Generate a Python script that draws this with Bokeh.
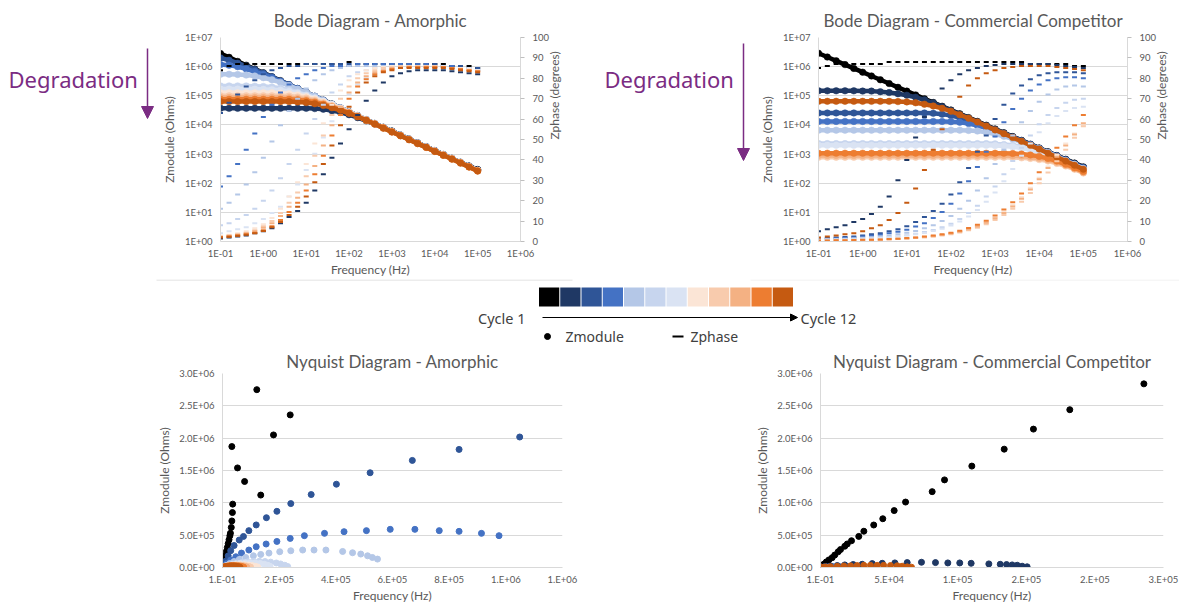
import math
from bokeh.plotting import figure
from bokeh.models import (Range1d, LinearAxis, LinearScale, FixedTicker, CustomJSTickFormatter,
                          Arrow, NormalHead)
from bokeh.layouts import row, column
from bokeh.embed import file_html
from bokeh.resources import INLINE
from bokeh.core.properties import value

# ---------------------------------------------------------------- data
cycle_names = ["Cycle 1", "Cycle 2", "Cycle 3", "Cycle 4", "Cycle 5", "Cycle 6",
               "Cycle 7", "Cycle 8", "Cycle 9", "Cycle 10", "Cycle 11", "Cycle 12"]
cycle_colors = ["#000000", "#1F3864", "#2F5597", "#4472C4", "#B4C7E7", "#C7D5EE",
                "#DAE3F3", "#FBE5D6", "#F8CBAD", "#F4B183", "#ED7D31", "#C55A11"]

# measurement frequencies, log10(Hz)
freq_exponents = [-1.0, -0.8, -0.6, -0.4, -0.2, 0.0, 0.2, 0.4, 0.6, 0.8, 1.0, 1.2, 1.4, 1.6, 1.8,
                  2.0, 2.2, 2.4, 2.6, 2.8, 3.0, 3.2, 3.4, 3.6, 3.8, 4.0, 4.2, 4.4, 4.6, 4.8, 5.0]

# Bode - Amorphic : log10 |Z| (Ohms), one row per cycle
amorphic_zmod_log = [
    [6.45, 6.32, 6.18, 6.05, 5.92, 5.79, 5.65, 5.52, 5.38, 5.25, 5.12, 4.98, 4.85, 4.72, 4.58, 4.45, 4.32, 4.18, 4.05, 3.92, 3.79, 3.65, 3.52, 3.38, 3.25, 3.12, 2.98, 2.85, 2.72, 2.59, 2.47],
    [4.57, 4.57, 4.57, 4.57, 4.57, 4.57, 4.57, 4.57, 4.57, 4.57, 4.57, 4.56, 4.54, 4.49, 4.43, 4.35, 4.25, 4.14, 4.03, 3.91, 3.78, 3.65, 3.51, 3.38, 3.25, 3.11, 2.98, 2.85, 2.71, 2.58, 2.45],
    [6.30, 6.22, 6.12, 6.02, 5.90, 5.78, 5.65, 5.51, 5.38, 5.25, 5.11, 4.98, 4.85, 4.71, 4.58, 4.45, 4.31, 4.18, 4.05, 3.91, 3.78, 3.65, 3.51, 3.38, 3.25, 3.11, 2.98, 2.85, 2.71, 2.58, 2.45],
    [6.07, 6.05, 6.00, 5.92, 5.83, 5.73, 5.62, 5.50, 5.37, 5.24, 5.11, 4.98, 4.84, 4.71, 4.58, 4.44, 4.31, 4.18, 4.04, 3.91, 3.78, 3.64, 3.51, 3.38, 3.24, 3.11, 2.98, 2.84, 2.71, 2.58, 2.44],
    [5.74, 5.74, 5.73, 5.71, 5.68, 5.62, 5.55, 5.46, 5.35, 5.23, 5.11, 4.98, 4.84, 4.71, 4.58, 4.44, 4.31, 4.17, 4.04, 3.91, 3.77, 3.64, 3.51, 3.37, 3.24, 3.11, 2.97, 2.84, 2.71, 2.57, 2.44],
    [5.34, 5.34, 5.34, 5.34, 5.33, 5.32, 5.30, 5.26, 5.20, 5.12, 5.03, 4.93, 4.82, 4.70, 4.57, 4.44, 4.31, 4.17, 4.04, 3.91, 3.77, 3.64, 3.51, 3.37, 3.24, 3.11, 2.97, 2.84, 2.71, 2.57, 2.44],
    [5.23, 5.23, 5.23, 5.23, 5.23, 5.22, 5.21, 5.19, 5.15, 5.09, 5.01, 4.92, 4.81, 4.70, 4.57, 4.44, 4.31, 4.17, 4.04, 3.91, 3.77, 3.64, 3.51, 3.37, 3.24, 3.10, 2.97, 2.84, 2.70, 2.57, 2.44],
    [5.10, 5.10, 5.10, 5.10, 5.10, 5.10, 5.10, 5.09, 5.07, 5.03, 4.97, 4.89, 4.79, 4.68, 4.56, 4.44, 4.31, 4.17, 4.04, 3.90, 3.77, 3.64, 3.50, 3.37, 3.24, 3.10, 2.97, 2.84, 2.70, 2.57, 2.43],
    [5.00, 5.00, 5.00, 5.00, 5.00, 5.00, 5.00, 5.00, 4.99, 4.96, 4.92, 4.85, 4.76, 4.66, 4.55, 4.43, 4.30, 4.17, 4.04, 3.90, 3.77, 3.64, 3.50, 3.37, 3.23, 3.10, 2.97, 2.83, 2.70, 2.57, 2.43],
    [4.94, 4.94, 4.94, 4.94, 4.94, 4.94, 4.94, 4.94, 4.93, 4.91, 4.87, 4.81, 4.73, 4.64, 4.54, 4.42, 4.30, 4.17, 4.03, 3.90, 3.77, 3.63, 3.50, 3.37, 3.23, 3.10, 2.97, 2.83, 2.70, 2.56, 2.43],
    [4.88, 4.88, 4.88, 4.88, 4.88, 4.88, 4.88, 4.88, 4.88, 4.86, 4.83, 4.78, 4.71, 4.62, 4.52, 4.41, 4.29, 4.16, 4.03, 3.90, 3.76, 3.63, 3.50, 3.36, 3.23, 3.10, 2.96, 2.83, 2.70, 2.56, 2.42],
    [4.80, 4.80, 4.80, 4.80, 4.80, 4.80, 4.80, 4.80, 4.80, 4.79, 4.77, 4.73, 4.67, 4.59, 4.50, 4.40, 4.28, 4.16, 4.03, 3.89, 3.76, 3.63, 3.49, 3.36, 3.23, 3.09, 2.96, 2.83, 2.69, 2.56, 2.42],
]
# Bode - Amorphic : phase (degrees)
amorphic_phase = [
    [84, 86, 87, 87, 87, 87, 87, 87, 87, 87, 87, 87, 87, 87, 87, 88, 87, 87, 87, 87, 87, 87, 87, 87, 87, 87, 87, 86, 86, 86, 85],
    [1.5, 2, 2.5, 3, 4, 5, 6.5, 9, 12, 15, 19, 25, 33, 41, 48, 55, 62, 69, 74, 78, 81, 82.5, 83.5, 84, 84, 84, 84, 83.5, 83, 82.5, 82],
    [63, 68, 72, 76, 79, 82, 84, 85, 86, 86, 87, 87, 87, 87, 87, 87, 87, 87, 87, 87, 87, 87, 87, 87, 87, 87, 86, 86, 86, 85, 85],
    [27, 32, 38, 45, 53, 61, 67, 73, 77, 80, 82, 84, 85, 86, 86, 86, 87, 87, 87, 87, 87, 87, 87, 87, 87, 86, 86, 86, 85, 85, 84],
    [16, 19, 23, 28, 34, 41, 49, 57, 64, 70, 75, 79, 82, 84, 85, 86, 86, 86, 86, 86, 86, 86, 86, 86, 86, 86, 86, 85, 85, 85, 84],
    [8, 9, 11, 13, 16, 20, 25, 31, 38, 45, 53, 60, 67, 73, 77, 81, 83, 84, 85, 85, 86, 86, 86, 86, 86, 86, 86, 85, 85, 85, 84],
    [4, 5, 6, 7, 9, 11, 14, 17, 22, 28, 35, 43, 51, 59, 66, 72, 77, 80, 82, 84, 85, 85, 86, 86, 86, 86, 86, 85, 85, 85, 84],
    [2.8, 3.3, 4, 5, 6.5, 8.5, 11.5, 16, 22, 29, 38, 48, 58, 67, 74, 79, 82, 84, 85, 85.5, 86, 86, 86, 86, 86, 86, 85.5, 85, 85, 84.5, 84],
    [2.5, 3, 3.6, 4.3, 5.5, 7.5, 10, 14, 19, 24, 32, 42, 52, 62, 70, 76, 80, 82.5, 84, 85, 85.5, 86, 86, 86, 86, 86, 85.5, 85, 84.5, 84, 83.5],
    [2.3, 2.8, 3.3, 4, 5, 6.8, 9, 12.5, 17, 21.5, 28, 37, 47, 57, 66, 73, 78, 81, 83, 84, 85, 85.5, 85.5, 85.5, 85.5, 85.5, 85.5, 85, 84.5, 84, 83.5],
    [2.2, 2.5, 3, 3.5, 4.3, 5.5, 7.5, 10.5, 14.5, 19, 25, 33, 42, 52, 62, 70, 76, 79.5, 82, 83.5, 84.5, 85, 85.5, 85.5, 85.5, 85.5, 85.5, 85, 84.5, 84, 83.5],
    [2, 2.3, 2.8, 3.3, 4, 5.2, 7, 9.5, 13, 17, 22, 29, 38, 47, 57, 66, 73, 78, 81, 83, 84, 85, 85, 85, 85, 85, 85, 84.5, 84, 83.5, 83],
]

# Bode - Commercial Competitor : log10 |Z| (Ohms)
competitor_zmod_log = [
    [6.46, 6.33, 6.20, 6.07, 5.94, 5.81, 5.68, 5.55, 5.42, 5.29, 5.16, 5.03, 4.90, 4.77, 4.64, 4.51, 4.38, 4.25, 4.12, 3.99, 3.86, 3.73, 3.60, 3.47, 3.34, 3.21, 3.08, 2.95, 2.82, 2.69, 2.56],
    [5.17, 5.17, 5.17, 5.17, 5.17, 5.16, 5.16, 5.14, 5.11, 5.07, 5.02, 4.95, 4.86, 4.75, 4.63, 4.50, 4.37, 4.24, 4.11, 3.98, 3.85, 3.72, 3.59, 3.46, 3.33, 3.20, 3.07, 2.94, 2.81, 2.68, 2.55],
    [4.41, 4.41, 4.41, 4.41, 4.41, 4.41, 4.41, 4.41, 4.41, 4.41, 4.41, 4.41, 4.41, 4.40, 4.37, 4.32, 4.25, 4.16, 4.05, 3.94, 3.82, 3.70, 3.58, 3.45, 3.32, 3.19, 3.06, 2.93, 2.80, 2.66, 2.53],
    [4.12, 4.12, 4.12, 4.12, 4.12, 4.12, 4.12, 4.12, 4.12, 4.12, 4.12, 4.12, 4.12, 4.12, 4.12, 4.11, 4.09, 4.05, 3.98, 3.90, 3.80, 3.69, 3.57, 3.45, 3.32, 3.19, 3.06, 2.93, 2.79, 2.65, 2.52],
    [3.82, 3.82, 3.82, 3.82, 3.82, 3.82, 3.82, 3.82, 3.82, 3.82, 3.82, 3.82, 3.82, 3.82, 3.82, 3.82, 3.82, 3.81, 3.79, 3.75, 3.69, 3.61, 3.52, 3.41, 3.30, 3.18, 3.05, 2.92, 2.78, 2.64, 2.50],
    [3.36, 3.36, 3.36, 3.36, 3.36, 3.36, 3.36, 3.36, 3.36, 3.36, 3.36, 3.36, 3.36, 3.36, 3.36, 3.36, 3.36, 3.36, 3.36, 3.36, 3.35, 3.33, 3.30, 3.25, 3.18, 3.09, 2.99, 2.88, 2.76, 2.63, 2.49],
    [3.30, 3.30, 3.30, 3.30, 3.30, 3.30, 3.30, 3.30, 3.30, 3.30, 3.30, 3.30, 3.30, 3.30, 3.30, 3.30, 3.30, 3.30, 3.30, 3.30, 3.29, 3.28, 3.25, 3.21, 3.15, 3.07, 2.98, 2.87, 2.75, 2.62, 2.48],
    [2.98, 2.98, 2.98, 2.98, 2.98, 2.98, 2.98, 2.98, 2.98, 2.98, 2.98, 2.98, 2.98, 2.98, 2.98, 2.98, 2.98, 2.98, 2.98, 2.98, 2.98, 2.98, 2.97, 2.96, 2.93, 2.89, 2.83, 2.74, 2.64, 2.52, 2.39],
    [2.89, 2.89, 2.89, 2.89, 2.89, 2.89, 2.89, 2.89, 2.89, 2.89, 2.89, 2.89, 2.89, 2.89, 2.89, 2.89, 2.89, 2.89, 2.89, 2.89, 2.89, 2.89, 2.88, 2.87, 2.85, 2.81, 2.76, 2.68, 2.59, 2.48, 2.35],
    [2.95, 2.95, 2.95, 2.95, 2.95, 2.95, 2.95, 2.95, 2.95, 2.95, 2.95, 2.95, 2.95, 2.95, 2.95, 2.95, 2.95, 2.95, 2.95, 2.95, 2.95, 2.95, 2.94, 2.93, 2.90, 2.86, 2.80, 2.72, 2.62, 2.50, 2.37],
    [3.03, 3.03, 3.03, 3.03, 3.03, 3.03, 3.03, 3.03, 3.03, 3.03, 3.03, 3.03, 3.03, 3.03, 3.03, 3.03, 3.03, 3.03, 3.03, 3.03, 3.03, 3.03, 3.02, 3.00, 2.97, 2.92, 2.85, 2.76, 2.65, 2.53, 2.40],
    [4.81, 4.81, 4.81, 4.81, 4.81, 4.81, 4.81, 4.81, 4.81, 4.80, 4.79, 4.76, 4.71, 4.65, 4.57, 4.47, 4.35, 4.23, 4.10, 3.96, 3.83, 3.70, 3.57, 3.44, 3.30, 3.17, 3.03, 2.90, 2.76, 2.62, 2.48],
]
# Bode - Commercial Competitor : phase (degrees)
competitor_phase = [
    [85, 86, 87, 87, 87, 87, 87, 87, 88, 88, 88, 88, 88, 88, 88, 88, 88, 88, 88, 88, 88, 88, 88, 88, 87, 87, 87, 87, 87, 86, 86],
    [5, 6, 7, 8, 9.5, 11, 13.5, 17, 22, 30, 40, 51, 61, 69, 75, 79, 82, 84, 85, 86, 86.5, 87, 87, 87, 87, 87, 87, 86.5, 86, 85.5, 85],
    [1.5, 1.7, 2, 2.2, 2.5, 3, 3.5, 4, 5, 6, 7.5, 9.5, 12, 15, 18.5, 23, 29, 36, 44, 52, 60, 67, 72.5, 76.5, 79.5, 81.5, 82.5, 83, 83, 83, 82.5],
    [1.2, 1.4, 1.6, 1.8, 2, 2.4, 2.8, 3.3, 4, 4.8, 5.8, 7.3, 9, 11.5, 14.5, 18.5, 23.5, 29.5, 36.5, 44, 51.5, 58.5, 65, 70, 74, 77, 79, 80, 80.5, 80.5, 80],
    [1, 1.1, 1.2, 1.4, 1.6, 1.8, 2.1, 2.5, 3, 3.6, 4.3, 5.2, 6.5, 8, 10, 12.5, 16, 20, 25, 31, 38, 45, 52, 58.5, 64, 68.5, 72, 74.5, 76, 76.5, 76],
    [0.8, 0.9, 1, 1.1, 1.2, 1.4, 1.6, 1.9, 2.2, 2.6, 3.1, 3.8, 4.6, 5.6, 7, 8.7, 11, 14, 17.5, 22, 27, 33, 39.5, 46, 52, 57.5, 62, 65.5, 68, 69.5, 70],
    [0.7, 0.8, 0.9, 1, 1.1, 1.3, 1.5, 1.7, 2, 2.4, 2.9, 3.5, 4.2, 5.1, 6.3, 7.8, 9.8, 12.3, 15.5, 19.5, 24, 29.5, 35.5, 42, 48, 53.5, 58, 61.5, 64, 65.5, 66],
    [0.4, 0.4, 0.5, 0.5, 0.6, 0.7, 0.8, 1, 1.2, 1.4, 1.6, 1.9, 2.3, 2.8, 3.4, 4.1, 5, 6.2, 7.7, 9.6, 11.9, 14.6, 17.9, 21.8, 26.3, 31.3, 36.8, 42.4, 48, 53, 57],
    [0.3, 0.3, 0.4, 0.4, 0.5, 0.6, 0.7, 0.8, 1, 1.2, 1.4, 1.7, 2, 2.4, 2.9, 3.6, 4.4, 5.5, 6.8, 8.5, 10.5, 13, 16, 19.5, 23.8, 28.5, 33.8, 39.3, 45, 50.8, 56.5],
    [0.4, 0.4, 0.5, 0.5, 0.6, 0.7, 0.8, 0.9, 1.1, 1.3, 1.5, 1.8, 2.2, 2.6, 3.2, 3.9, 4.8, 6, 7.4, 9.2, 11.4, 14, 17.2, 21, 25.5, 30.5, 36, 41.5, 47, 52.5, 58],
    [0.5, 0.5, 0.6, 0.6, 0.7, 0.8, 0.9, 1, 1.2, 1.4, 1.7, 2, 2.4, 2.9, 3.5, 4.3, 5.3, 6.6, 8.2, 10.2, 12.7, 15.7, 19.3, 23.5, 28.5, 34, 40, 46, 51.5, 57, 62],
    [2, 2.5, 3, 3.5, 4, 5, 6.5, 8, 10.5, 14, 19, 26, 35, 45, 55, 64, 71, 76.5, 80, 82.5, 84, 85, 85.5, 86, 86, 86, 86, 85.5, 85, 84.5, 84],
]

# Nyquist - Amorphic : x and y values of the points, one list per cycle
amorphic_nyq_x = [
    [2e3, 5e3, 8e3, 1.1e4, 1.4e4, 1.7e4, 2.0e4, 2.3e4, 2.6e4, 2.8e4, 3.1e4, 3.3e4, 3.5e4, 3.6e4, 1.35e5, 7.8e4, 5.3e4, 3.3e4, 1.8e5, 2.39e5, 1.21e5],
    [3e3, 8e3, 1.4e4, 2e4, 2.6e4, 3.1e4, 3.5e4, 3.7e4, 4.1e4],
    [5e3, 1.2e4, 2e4, 2.9e4, 4.1e4, 5.9e4, 7.4e4, 9.3e4, 1.19e5, 1.55e5, 1.92e5, 2.41e5, 3.13e5, 4.02e5, 5.21e5, 6.7e5, 8.35e5, 1.049e6],
    [6e3, 1.5e4, 2.9e4, 4.7e4, 6.7e4, 9.3e4, 1.19e5, 1.54e5, 1.92e5, 2.39e5, 2.89e5, 3.6e5, 4.29e5, 5.08e5, 5.92e5, 6.79e5, 7.65e5, 8.35e5, 9.14e5, 9.76e5],
    [1.3e4, 2.6e4, 4.1e4, 5.9e4, 8.2e4, 1.09e5, 1.35e5, 1.64e5, 2.02e5, 2.41e5, 2.83e5, 3.23e5, 3.65e5, 4.24e5, 4.59e5, 4.88e5, 5.12e5, 5.29e5, 5.47e5],
    [4e3, 1.2e4, 2.3e4, 3.6e4, 5.2e4, 7e4, 9e4, 1.1e5, 1.3e5, 1.5e5, 1.7e5, 1.9e5, 2.05e5, 2.2e5, 2.3e5],
    [4e3, 1e4, 2e4, 3.2e4, 4.6e4, 6.2e4, 8e4, 9.8e4, 1.16e5, 1.33e5, 1.48e5, 1.6e5, 1.68e5],
    [4e3, 1.2e4, 2.2e4, 3.4e4, 4.8e4, 6.3e4, 7.8e4, 9.2e4, 1.05e5, 1.16e5, 1.24e5],
    [4e3, 1e4, 1.8e4, 2.8e4, 3.9e4, 5.1e4, 6.3e4, 7.4e4, 8.4e4, 9.3e4, 9.9e4],
    [3e3, 9e3, 1.6e4, 2.5e4, 3.4e4, 4.4e4, 5.4e4, 6.4e4, 7.3e4, 8.1e4, 8.6e4],
    [3e3, 8e3, 1.4e4, 2.2e4, 3e4, 3.9e4, 4.8e4, 5.7e4, 6.5e4, 7.1e4, 7.5e4],
    [3e3, 7e3, 1.2e4, 1.8e4, 2.5e4, 3.2e4, 4e4, 4.7e4, 5.4e4, 5.9e4, 6.2e4],
]
amorphic_nyq_y = [
    [3e4, 8e4, 1.3e5, 1.9e5, 2.5e5, 3.1e5, 3.7e5, 4.3e5, 4.9e5, 5.3e5, 6.2e5, 7.2e5, 8.5e5, 9.8e5, 1.12e6, 1.33e6, 1.54e6, 1.87e6, 2.05e6, 2.36e6, 2.75e6],
    [5e3, 1.1e4, 1.5e4, 1.6e4, 1.4e4, 1e4, 6e3, 3e3, 1e3],
    [4e4, 1.0e5, 1.8e5, 2.6e5, 3.4e5, 4.25e5, 4.8e5, 5.7e5, 6.58e5, 7.7e5, 8.69e5, 9.88e5, 1.128e6, 1.288e6, 1.465e6, 1.656e6, 1.826e6, 2.018e6],
    [2.6e4, 6.2e4, 1.15e5, 1.66e5, 2.23e5, 2.7e5, 3.21e5, 3.63e5, 4.03e5, 4.5e5, 4.92e5, 5.28e5, 5.54e5, 5.7e5, 5.9e5, 5.9e5, 5.7e5, 5.59e5, 5.28e5, 4.92e5],
    [3.1e4, 6.2e4, 9.3e4, 1.24e5, 1.55e5, 1.81e5, 2.02e5, 2.23e5, 2.44e5, 2.59e5, 2.7e5, 2.7e5, 2.7e5, 2.48e5, 2.28e5, 2.08e5, 1.81e5, 1.55e5, 1.3e5],
    [8e3, 2.1e4, 3.6e4, 5.1e4, 6.6e4, 7.9e4, 8.9e4, 9.5e4, 9.6e4, 9.2e4, 8.3e4, 7e4, 5.5e4, 3.5e4, 1.5e4],
    [7e3, 1.8e4, 3e4, 4.2e4, 5.5e4, 6.5e4, 7.2e4, 7.4e4, 7.1e4, 6.3e4, 5e4, 3.4e4, 1.8e4],
    [6e3, 1.6e4, 2.6e4, 3.6e4, 4.3e4, 4.6e4, 4.4e4, 3.8e4, 2.9e4, 1.8e4, 8e3],
    [5e3, 1.3e4, 2.2e4, 3e4, 3.6e4, 3.8e4, 3.6e4, 3.1e4, 2.4e4, 1.5e4, 6e3],
    [5e3, 1.2e4, 2e4, 2.7e4, 3.2e4, 3.4e4, 3.2e4, 2.7e4, 2.1e4, 1.3e4, 5e3],
    [4e3, 1.1e4, 1.8e4, 2.4e4, 2.8e4, 3e4, 2.8e4, 2.4e4, 1.8e4, 1.1e4, 4e3],
    [4e3, 9e3, 1.5e4, 2e4, 2.4e4, 2.5e4, 2.4e4, 2e4, 1.5e4, 9e3, 3e3],
]

# Nyquist - Commercial Competitor
competitor_nyq_x = [
    [7e2, 2.4e3, 4.2e3, 6.1e3, 8.5e3, 1.04e4, 1.29e4, 1.46e4, 1.77e4, 1.95e4, 2.26e4, 2.79e4, 3.16e4, 3.88e4, 4.54e4, 5.37e4, 6.2e4, 8.14e4, 9.04e4, 1.103e5, 1.339e5, 1.552e5, 1.817e5, 2.357e5],
    [3.6e3, 7.3e3, 1.22e4, 1.77e4, 2.38e4, 3.04e4, 3.77e4, 4.5e4, 5.42e4, 6.32e4, 7.36e4, 8.38e4, 9.28e4, 1.015e5, 1.098e5, 1.227e5, 1.31e5, 1.356e5, 1.397e5, 1.434e5, 1.47e5, 1.506e5],
    [2e3, 5e3, 9e3, 1.4e4, 1.9e4, 2.3e4, 2.6e4],
    [1e3, 3e3, 6e3, 9e3, 1.2e4, 1.3e4],
    [1e3, 2.5e3, 4.5e3, 6e3, 6.6e3],
    [5e2, 1.2e3, 2e3, 2.3e3],
    [5e2, 1.1e3, 1.8e3, 2e3],
    [3e2, 6e2, 9e2, 9.5e2],
    [2e2, 5e2, 7e2, 7.8e2],
    [3e2, 5e2, 8e2, 9e2],
    [3e2, 7e2, 1e3, 1.07e3],
    [7e2, 3.6e3, 7.3e3, 1.22e4, 1.7e4, 2.19e4, 2.67e4, 3.16e4, 3.64e4, 4.13e4, 4.6e4, 5.1e4, 5.59e4, 5.95e4, 6.32e4, 6.63e4],
]
competitor_nyq_y = [
    [2.6e4, 5.1e4, 8.6e4, 1.17e5, 1.52e5, 1.93e5, 2.43e5, 2.78e5, 3.29e5, 3.64e5, 4.14e5, 4.81e5, 5.61e5, 6.57e5, 7.54e5, 8.8e5, 1.012e6, 1.173e6, 1.355e6, 1.568e6, 1.83e6, 2.14e6, 2.44e6, 2.84e6],
    [1.5e4, 2.3e4, 3e4, 4e4, 4.6e4, 5e4, 6e4, 6.5e4, 7.1e4, 7.6e4, 8.1e4, 7.6e4, 7.1e4, 7.1e4, 6.5e4, 5.6e4, 5e4, 4.6e4, 4e4, 3.5e4, 2e4, 1.1e4],
    [4e3, 8e3, 1.1e4, 1.2e4, 1e4, 6e3, 2e3],
    [2e3, 4.5e3, 6e3, 5.5e3, 3e3, 1e3],
    [1.5e3, 3e3, 3e3, 1.5e3, 5e2],
    [6e2, 1e3, 7e2, 2e2],
    [5e2, 9e2, 6e2, 2e2],
    [3e2, 4e2, 3e2, 1e2],
    [2e2, 3e2, 2e2, 1e2],
    [3e2, 4e2, 3e2, 1e2],
    [3e2, 4e2, 3e2, 1e2],
    [3e3, 8e3, 1.3e4, 1.8e4, 2.3e4, 2.6e4, 3e4, 3.3e4, 3.3e4, 3.3e4, 3.3e4, 3e4, 2.6e4, 2e4, 1e4, 5e3],
]

# axis ticks
bode_freq_ticks = [0.1, 1, 10, 100, 1e3, 1e4, 1e5, 1e6]
bode_zmod_ticks = [1, 10, 100, 1e3, 1e4, 1e5, 1e6, 1e7]
bode_phase_ticks = [0, 10, 20, 30, 40, 50, 60, 70, 80, 90, 100]
nyq_amorphic_xticks = [0, 2e5, 4e5, 6e5, 8e5, 1e6, 1.2e6]
nyq_competitor_xticks = [0, 5e4, 1e5, 1.5e5, 2e5, 2.5e5]
nyq_yticks = [0, 5e5, 1e6, 1.5e6, 2e6, 2.5e6, 3e6]

# ---------------------------------------------------------------- style
GRAY = "#595959"
GRID = "#D9D9D9"
PURPLE = "#7B2C83"
FONT = "Lato"
LFONT = "Noto Sans"

LOG_CODE = """
const e = Math.round(Math.log10(tick));
return "1E" + (e < 0 ? "-" : "+") + String(Math.abs(e)).padStart(2, "0");
"""
NYQ_X_CODE = """
if (tick < 1) return "1.E-01";
let e = Math.floor(Math.log10(tick) + 1e-9);
let m = Math.round(tick / Math.pow(10, e));
if (m >= 10) { m = 1; e = e + 1; }
return m + ".E+" + String(e).padStart(2, "0");
"""
NYQ_Y_CODE = """
if (tick == 0) return "0.0E+00";
const e = Math.floor(Math.log10(tick) + 1e-9);
const m = tick / Math.pow(10, e);
return m.toFixed(1) + "E+" + String(e).padStart(2, "0");
"""


def style_axis(ax, standoff=8, label_standoff=3, tick_out=0):
    ax.axis_line_color = GRID
    ax.major_tick_line_color = None
    ax.minor_tick_line_color = None
    ax.major_tick_out = tick_out
    ax.major_tick_in = 0
    ax.minor_tick_out = 0
    ax.minor_tick_in = 0
    ax.major_label_text_font = FONT
    ax.major_label_text_font_size = "9.5px"
    ax.major_label_text_color = GRAY
    ax.major_label_standoff = standoff
    ax.axis_label_text_font = FONT
    ax.axis_label_text_font_size = "12px"
    ax.axis_label_text_font_style = "normal"
    ax.axis_label_text_color = GRAY
    ax.axis_label_standoff = label_standoff


def style_title(p, offset, standoff):
    p.title.align = "center"
    p.title.offset = offset
    p.title.text_font = FONT
    p.title.text_font_size = "17px"
    p.title.text_font_style = "normal"
    p.title.text_color = GRAY
    p.title.standoff = standoff


def blank(w, h, y_top, y_bottom, mb_top=0, mb_bottom=0):
    # a plain drawing area whose data units are page pixels
    f = figure(width=w, height=h, x_range=Range1d(0, w), y_range=Range1d(y_bottom, y_top),
               x_axis_location=None, y_axis_location=None, title=None,
               min_border_left=0, min_border_right=0,
               min_border_top=mb_top, min_border_bottom=mb_bottom,
               output_backend="svg", toolbar_location=None)
    f.grid.visible = False
    f.outline_line_color = None
    return f


freq = [10 ** e for e in freq_exponents]


def make_bode(width, title, toff, zlog, phase, mb_left, mb_right):
    p = figure(width=width, height=279, x_axis_type="log", y_axis_type="log",
               x_range=Range1d(0.1, 1e6), y_range=Range1d(1, 1e7), title=title,
               output_backend="svg", toolbar_location=None,
               min_border_left=mb_left, min_border_right=mb_right,
               min_border_top=37, min_border_bottom=38)
    p.outline_line_color = None
    style_title(p, toff, 13)
    p.xaxis[0].ticker = FixedTicker(ticks=bode_freq_ticks)
    p.xaxis[0].formatter = CustomJSTickFormatter(code=LOG_CODE)
    p.xaxis[0].axis_label = "Frequency (Hz)"
    p.yaxis[0].ticker = FixedTicker(ticks=bode_zmod_ticks)
    p.yaxis[0].formatter = CustomJSTickFormatter(code=LOG_CODE)
    p.yaxis[0].axis_label = "Zmodule (Ohms)"
    style_axis(p.xaxis[0], 6, 0)
    style_axis(p.yaxis[0], 8, 5)
    p.extra_y_ranges = {"phase": Range1d(0, 100)}
    p.extra_y_scales = {"phase": LinearScale()}
    rax = LinearAxis(y_range_name="phase", axis_label="Zphase (degrees)",
                     ticker=FixedTicker(ticks=bode_phase_ticks))
    style_axis(rax, 8, 2, tick_out=4)
    rax.major_tick_line_color = "#BFBFBF"
    try:
        rax.axis_label_orientation = math.pi / 2
    except Exception:
        pass
    p.add_layout(rax, "right")
    p.xgrid.visible = False
    p.ygrid.grid_line_color = GRID
    for i in range(12):
        zs = [10 ** v for v in zlog[i]]
        p.line(freq, zs, line_width=4.5, line_color=cycle_colors[i], line_cap="round")
        p.scatter(freq, zs, marker="circle", size=6.5,
                  fill_color=cycle_colors[i], line_color=cycle_colors[i], line_width=0.5)
    for i in range(12):
        p.scatter(freq, phase[i], marker="dash", size=5, line_width=2,
                  line_color=cycle_colors[i], y_range_name="phase")
    return p


def make_nyq(width, title, toff, xmax, xticks, xs, ys, mb_left, mb_right):
    p = figure(width=width, height=261, x_range=Range1d(0, xmax), y_range=Range1d(0, 3e6),
               title=title, output_backend="svg", toolbar_location=None,
               min_border_left=mb_left, min_border_right=mb_right,
               min_border_top=28, min_border_bottom=39)
    p.outline_line_color = None
    style_title(p, toff, 4)
    p.xaxis[0].ticker = FixedTicker(ticks=xticks)
    p.xaxis[0].formatter = CustomJSTickFormatter(code=NYQ_X_CODE)
    p.xaxis[0].axis_label = "Frequency (Hz)"
    p.yaxis[0].ticker = FixedTicker(ticks=nyq_yticks)
    p.yaxis[0].formatter = CustomJSTickFormatter(code=NYQ_Y_CODE)
    p.yaxis[0].axis_label = "Zmodule (Ohms)"
    style_axis(p.xaxis[0], 6, 0)
    style_axis(p.yaxis[0], 8, 4)
    p.xgrid.visible = False
    p.ygrid.grid_line_color = GRID
    for i in range(12):
        p.scatter(xs[i], ys[i], marker="circle", size=6,
                  fill_color=cycle_colors[i], line_color=cycle_colors[i])
    return p


# ---------------------------------------------------------------- row 1
deg1 = blank(156, 279, 37, 241, 37, 38)
deg1.text(x=[8], y=[78], text=["Degradation"], text_font=value(LFONT),
          text_font_size=value("22px"), text_color=PURPLE, text_align="left",
          text_baseline="middle")
deg1.add_layout(Arrow(end=NormalHead(size=12, fill_color=PURPLE, line_color=PURPLE),
                      x_start=147, y_start=48, x_end=147, y_end=118,
                      line_color=PURPLE, line_width=1.5))

bode1 = make_bode(416, "Bode Diagram - Amorphic", -8, amorphic_zmod_log, amorphic_phase, 64, 45)

deg2 = blank(183, 279, 37, 241, 37, 38)
deg2.text(x=[32], y=[78], text=["Degradation"], text_font=value(LFONT),
          text_font_size=value("22px"), text_color=PURPLE, text_align="left",
          text_baseline="middle")
deg2.add_layout(Arrow(end=NormalHead(size=12, fill_color=PURPLE, line_color=PURPLE),
                      x_start=171, y_start=43, x_end=171, y_end=160,
                      line_color=PURPLE, line_width=1.5))

bode2 = make_bode(424, "Bode Diagram - Commercial Competitor", -7, competitor_zmod_log,
                  competitor_phase, 63, 42)

# ---------------------------------------------------------------- row 2 (legend)
leg = blank(1179, 66, 0, 66)
leg.segment(x0=[156, 750], y0=[0.5, 0.5], x1=[572, 1179], y1=[0.5, 0.5],
            line_color=["#D9D9D9", "#EEEEEE"], line_width=1)
box_left = [538 + 21.25 * i + 0.5 for i in range(len(cycle_colors))]
box_right = [538 + 21.25 * (i + 1) - 0.5 for i in range(len(cycle_colors))]
leg.quad(left=box_left, right=box_right, top=8, bottom=27,
         fill_color=cycle_colors, line_color=None)
leg.text(x=[525], y=[38], text=[cycle_names[0]], text_font=value(LFONT),
         text_font_size=value("14.5px"), text_color="#404040", text_align="right",
         text_baseline="middle")
leg.add_layout(Arrow(end=NormalHead(size=7, fill_color="black", line_color="black"),
                     x_start=542, y_start=38, x_end=797, y_end=38,
                     line_color="black", line_width=1))
leg.text(x=[800], y=[38], text=[cycle_names[-1]], text_font=value(LFONT),
         text_font_size=value("14.5px"), text_color="#404040", text_align="left",
         text_baseline="middle")
leg.scatter([547], [57], marker="circle", size=6, color="black")
leg.text(x=[565], y=[57], text=["Zmodule"], text_font=value(LFONT),
         text_font_size=value("14px"), text_color="#404040", text_align="left",
         text_baseline="middle")
leg.segment(x0=[672], y0=[57], x1=[683], y1=[57], line_color="black", line_width=2)
leg.text(x=[690], y=[57], text=["Zphase"], text_font=value(LFONT),
         text_font_size=value("14px"), text_color="#404040", text_align="left",
         text_baseline="middle")

# ---------------------------------------------------------------- row 3
nyq1 = make_nyq(600, "Nyquist Diagram - Amorphic", 11, 1.2e6, nyq_amorphic_xticks,
                amorphic_nyq_x, amorphic_nyq_y, 222, 38)
nyq2 = make_nyq(579, "Nyquist Diagram - Commercial Competitor", 5, 2.5e5, nyq_competitor_xticks,
                competitor_nyq_x, competitor_nyq_y, 220, 16)

layout = column(row(deg1, bode1, deg2, bode2), leg, row(nyq1, nyq2))

open("out.html", "w").write(file_html(layout, INLINE))
